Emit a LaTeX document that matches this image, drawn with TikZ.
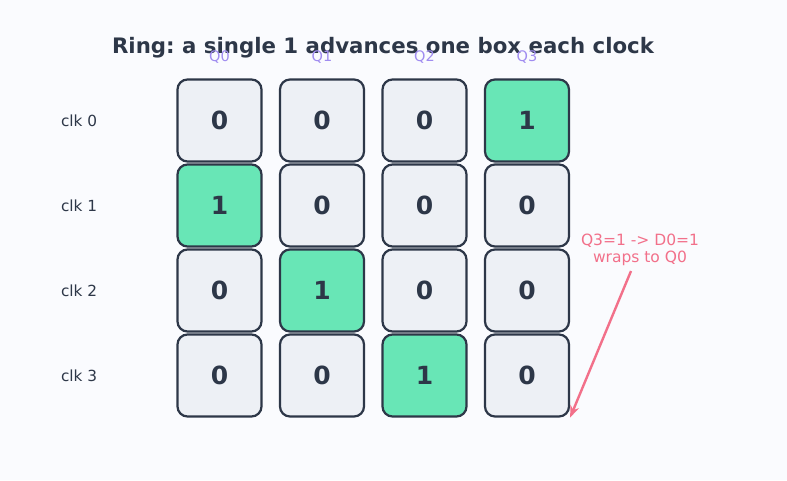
\documentclass[tikz,border=0pt]{standalone}
\usepackage{fontspec}
\setmainfont{DejaVu Sans}
\usetikzlibrary{arrows.meta}
\frenchspacing
\definecolor{ink}{HTML}{2D3748}
\definecolor{cellgray}{HTML}{EDF0F5}
\definecolor{cellon}{HTML}{68E6B6}
\definecolor{qcol}{HTML}{A08CF0}
\definecolor{notecol}{HTML}{F2708A}
\definecolor{bgcol}{HTML}{FAFBFE}
\tikzset{
	cell/.style={draw=ink, line width=2.2pt, rounded corners=10pt, fill=cellgray,
		minimum width=84pt, minimum height=82pt, inner sep=0pt,
		text=ink, font=\bfseries\fontsize{25}{30}\selectfont},
	cellhot/.style={cell, fill=cellon},
	qlabel/.style={text=qcol, font=\fontsize{14.5}{17}\selectfont},
	clklabel/.style={text=ink, anchor=west, font=\fontsize{15.3}{18}\selectfont},
}

\begin{document}
\begin{tikzpicture}[x=1pt, y=-1pt]
		%%%%% START %%%%%
		
		\fill[bgcol] (0, 0) rectangle (787, 480);
		\useasboundingbox (0, 0) rectangle (787, 480);
		
		\node[text=ink, font=\bfseries\fontsize{21.3}{25}\selectfont] (title) at (383, 48) {Ring: a single 1 advances one box each clock};
		
		% row clk 0
		\node[cell] (b00) at (219.5, 120.5) {0};
		\node[cell] (b01) at (322, 120.5) {0};
		\node[cell] (b02) at (424.5, 120.5) {0};
		\node[cellhot] (b03) at (527, 120.5) {1};
		
		% row clk 1
		\node[cellhot] (b10) at (219.5, 205.5) {1};
		\node[cell] (b11) at (322, 205.5) {0};
		\node[cell] (b12) at (424.5, 205.5) {0};
		\node[cell] (b13) at (527, 205.5) {0};
		
		% row clk 2
		\node[cell] (b20) at (219.5, 290.5) {0};
		\node[cellhot] (b21) at (322, 290.5) {1};
		\node[cell] (b22) at (424.5, 290.5) {0};
		\node[cell] (b23) at (527, 290.5) {0};
		
		% row clk 3
		\node[cell] (b30) at (219.5, 375.5) {0};
		\node[cell] (b31) at (322, 375.5) {0};
		\node[cellhot] (b32) at (424.5, 375.5) {1};
		\node[cell] (b33) at (527, 375.5) {0};
		
		\node[qlabel] (q0) at (219.5, 57) {Q0};
		\node[qlabel] (q1) at (322, 57) {Q1};
		\node[qlabel] (q2) at (424.5, 57) {Q2};
		\node[qlabel] (q3) at (527, 57) {Q3};
		
		\node[clklabel] (c0) at (57.5, 120.5) {clk 0};
		\node[clklabel] (c1) at (57.5, 205.5) {clk 1};
		\node[clklabel] (c2) at (57.5, 290.5) {clk 2};
		\node[clklabel] (c3) at (57.5, 375.5) {clk 3};
		
		\node[text=notecol, align=center, font=\fontsize{15.5}{17}\selectfont] (note) at (640, 249.5) {Q3=1 -> D0=1\\wraps to Q0};
		\coordinate (notefoot) at (631, 271);
		\draw[notecol, line width=2.4pt, -{Stealth[length=12pt, width=9pt]}] (notefoot) -- (b33.south east);
		
		%%%%% END %%%%%
	\end{tikzpicture}
\end{document}
